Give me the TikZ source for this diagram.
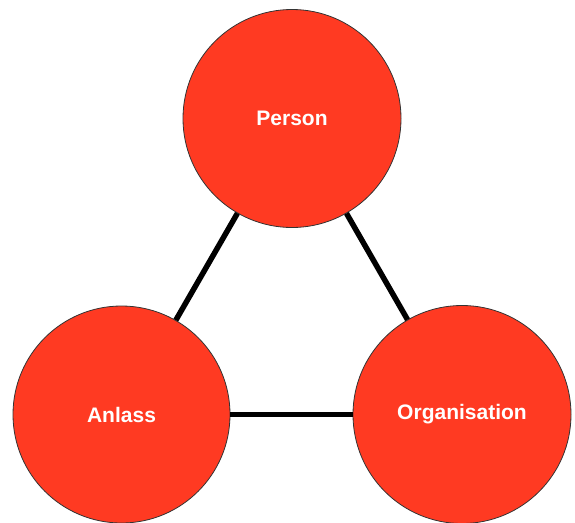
\documentclass[tikz,border=0pt]{standalone}
\usepackage{fontspec}
\setmainfont{Liberation Sans}
\definecolor{ballred}{RGB}{255,58,34}
\begin{document}
\begin{tikzpicture}[x=1pt,y=-1pt,
  ball/.style={circle,draw=black!80,line width=0.8pt,fill=ballred,minimum size=218pt,inner sep=0pt,
    text=white,font=\fontsize{21}{24}\selectfont\bfseries},
  link/.style={line width=5.5pt,black}]
\useasboundingbox (0,0) rectangle (575,522);
\node[ball] (p) at (292,118.5) {Person};
\node[ball,minimum size=217pt] (a) at (121.5,414.5) {Anlass};
\node[ball] (o) at (462,414.5) {Organisation};
\draw[link] (p) -- (a);
\draw[link] (p) -- (o);
\draw[link] (a) -- (o);
\end{tikzpicture}
\end{document}
